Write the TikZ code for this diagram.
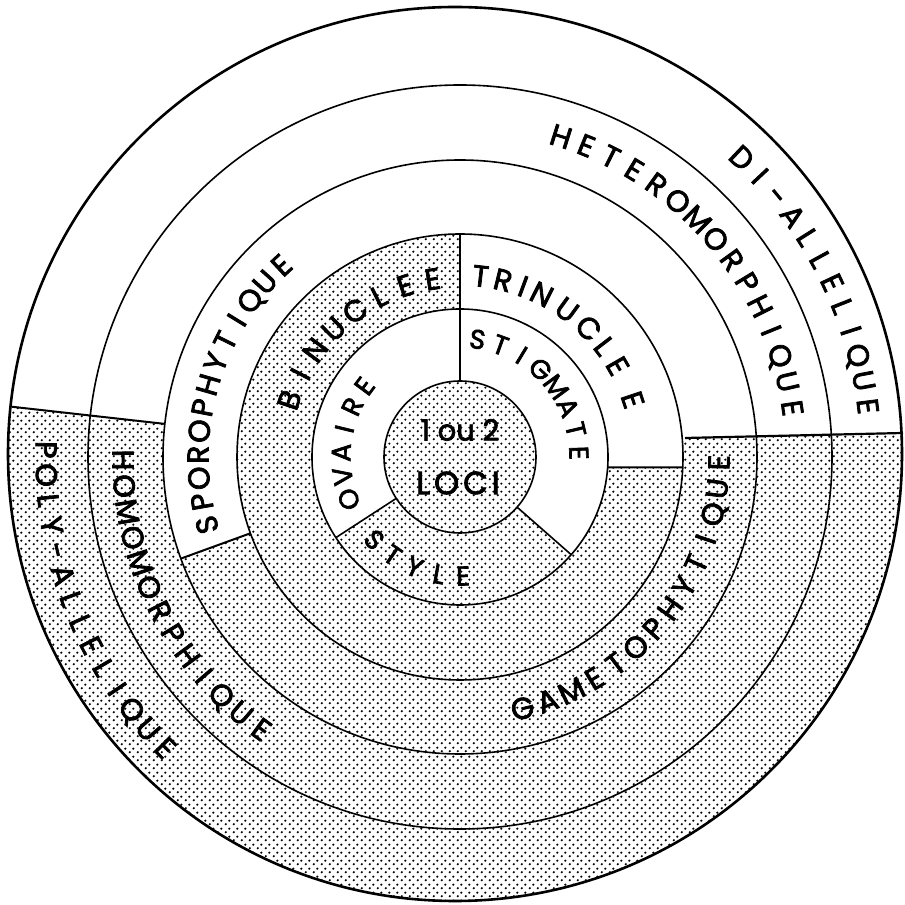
\documentclass[tikz,border=0pt]{standalone}
\usepackage{fontspec}
\newfontfamily\lab{Poppins}[FakeBold=2.5]
\usetikzlibrary{calc,patterns}
\pgfdeclarepatternformonly{mydots}{\pgfqpoint{0pt}{0pt}}{\pgfqpoint{8pt}{8pt}}{\pgfqpoint{8pt}{8pt}}{%
  \pgfpathcircle{\pgfqpoint{2pt}{2pt}}{1.35pt}%
  \pgfpathcircle{\pgfqpoint{6pt}{6pt}}{1.35pt}%
  \pgfusepath{fill}%
}
\newcommand\ringword[7][lett]{%
  \foreach \ch [count=\k from 0] in {#3} {%
    \pgfmathsetmacro\ang{#5+\k*(#6)}%
    \node[#1, rotate=\ang#7] (#2\k) at ($(C)+(\ang:#4)$) {\ch};
  }%
}
\newcommand\ringlist[5][lett]{%
  \foreach \ang/\ch [count=\k from 0] in {#3} {%
    \node[#1, rotate=\ang#5] (#2\k) at ($(C)+(\ang:#4)$) {\ch};
  }%
}
\begin{document}
\begin{tikzpicture}[x=1pt,y=1pt,
  ring/.style={line width=1.6pt},
  shade/.style={pattern=mydots, pattern color=black},
  lett/.style={font=\lab\fontsize{30}{30}\selectfont, inner sep=0pt, text height=21pt, text depth=0pt, anchor=center},
  slett/.style={font=\lab\fontsize{27}{27}\selectfont, inner sep=0pt, text height=19pt, text depth=0pt, anchor=center},
  ctext/.style={font=\lab\fontsize{29}{29}\selectfont, inner sep=0pt},
]
\useasboundingbox (0,0) rectangle (905,905);
\fill[white] (0,0) rectangle (905,905);
\coordinate (C) at (460,448);
\coordinate (C5) at (455,451);

% shaded regions
\fill[shade] (C) circle[radius=76];
\fill[shade] ($(C)+(213:76)$) arc[start angle=213,end angle=318.7,radius=76]
  -- ($(C)+(318.7:148)$) arc[start angle=318.7,end angle=213,radius=148] -- cycle;
\fill[shade] ($(C)+(90:148)$) arc[start angle=90,end angle=356,radius=148]
  -- ($(C)+(357.3:223)$) arc[start angle=357.3,end angle=90,radius=223] -- cycle;
\begin{scope}
  \clip (C) -- ($(C)+(200:600)$) -- (-110,-110) -- (1010,-110) -- (1010,474.5) -- (460,461.8) -- cycle;
  \fill[shade, even odd rule] (C) circle[radius=297] (C) circle[radius=223];
\end{scope}
\begin{scope}
  \clip (C) -- ($(C)+(173.6:600)$) -- (-150,-150) -- (1050,-150) -- (1050,475.4) -- (460,461.8) -- cycle;
  \fill[shade, even odd rule] (C5) circle[radius=447] (C) circle[radius=297];
\end{scope}

% circles
\draw[ring] (C) circle[radius=76];
\draw[ring] (C) circle[radius=148];
\draw[ring] (C) circle[radius=223];
\draw[ring] (C) circle[radius=297];
\draw[ring] (C) circle[radius=372];
\draw[line width=2.6pt] (C5) circle[radius=447];

% dividers
\draw[ring] ($(C)+(90:76)$) -- ($(C)+(90:223)$);
\draw[ring] ($(C)+(213:76)$) -- ($(C)+(213:148)$);
\draw[ring] ($(C)+(318.7:76)$) -- ($(C)+(318.7:148)$);
\draw[line width=2pt] ($(C)+(356:148)$) -- ($(C)+(357.3:223)$);
\draw[line width=2pt] ($(C)+(200:223)$) -- ($(C)+(200:297)$);
\draw[line width=2pt] ($(C)+(173.6:297)$) -- ($(C)+(173.6:451)$);
\draw[line width=2.2pt] (685,467) -- (903,472);

% labels reading clockwise (tops outward)
\ringword{dia}{D,I,-,A,L,L,E,L,I,Q,U,E}{411}{46.7}{-3.6}{-90}
\ringword{het}{H,E,T,E,R,O,M,O,R,P,H,I,Q,U,E}{336}{72.5}{-4.58}{-90}
\ringlist{tri}{83.5/T,76.3/R,69.7/I,63.3/N,54/U,45/C,37.5/L,30/E,18.3/E}{182}{-90}
\ringword[slett]{sti}{S,T,I,G,M,A,T,E}{119}{81.5}{-11.36}{-90}
\ringword{bin}{B,I,N,U,C,L,E,E}{180}{161.5}{-8.96}{-90}
\ringword{spo}{S,P,O,R,O,P,H,Y,T,I,Q,U,E}{262}{195}{-5.17}{-90}
\ringword[slett]{ova}{O,V,A,I,R,E}{119}{200.8}{-11.48}{-90}

% labels reading counter-clockwise (tops inward)
\ringlist[slett]{sty}{224/S,235.5/T,247.5/Y,259.8/L,271.5/E}{119}{+90}
\ringword{gam}{G,A,M,E,T,O,P,H,Y,T,I,Q,U,E}{259}{284}{5.75}{+90}
\ringword{hom}{H,O,M,O,M,O,R,P,H,I,Q,U,E}{337}{180.5}{4.45}{+90}
\ringword{pol}{P,O,L,Y,-,A,L,L,E,L,I,Q,U,E}{414}{179}{3.51}{+90}

% centre
\node[ctext] (oneortwo) at (460,475) {1 ou 2};
\node[ctext, font=\lab\fontsize{32}{32}\selectfont] (loci) at (458,422) {L\kern4pt O\kern4pt C\kern4pt I};
\end{tikzpicture}
\end{document}
